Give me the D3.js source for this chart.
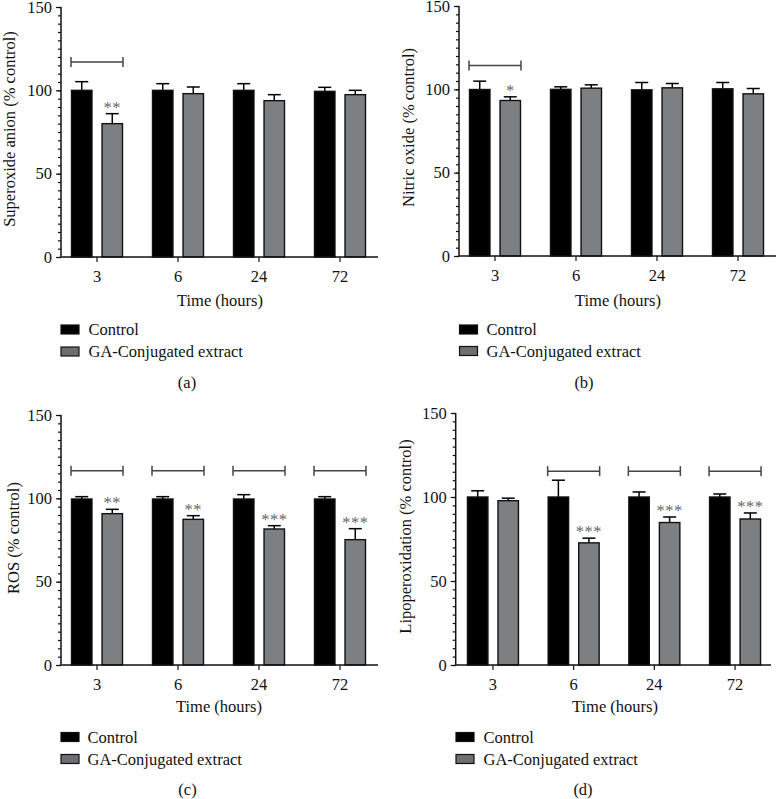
<!DOCTYPE html>
<html><head><meta charset="utf-8">
<script src="https://cdn.jsdelivr.net/npm/d3@7"></script>
<style>
html,body{margin:0;padding:0;background:#fff;}
svg{display:block;font-family:"Liberation Serif","Times New Roman",serif;}
</style></head>
<body>
<svg id="chart" width="776" height="799"></svg>
<script>
// ---------- data ----------
const categories = ["3", "6", "24", "72"];
const seriesNames = ["Control", "GA-Conjugated extract"];
const yTickValues = [0, 50, 100, 150];
const xTitle = "Time (hours)";
const panelLetters = ["(a)", "(b)", "(c)", "(d)"];
const yTitles = ["Superoxide anion (% control)", "Nitric oxide (% control)", "ROS (% control)", "Lipoperoxidation (% control)"];

const superoxideControl = [100, 100, 100, 99.4];
const superoxideControlErr = [5.2, 4, 4, 2.4];
const superoxideExtract = [80, 98, 93.8, 97.4];
const superoxideExtractErr = [6, 4, 3.6, 2.6];
const superoxideStars = ["**", "", "", ""];
const superoxideBrackets = [true, false, false, false];

const nitricControl = [99.9, 100, 99.7, 100.3];
const nitricControlErr = [5, 1.5, 4.4, 3.8];
const nitricExtract = [93.3, 100.7, 100.9, 97.3];
const nitricExtractErr = [2.2, 2, 2.6, 3.2];
const nitricStars = ["*", "", "", ""];
const nitricBrackets = [true, false, false, false];

const rosControl = [99.6, 99.6, 99.6, 99.6];
const rosControlErr = [1.4, 1.4, 2.6, 1.4];
const rosExtract = [90.8, 87.4, 81.6, 75.2];
const rosExtractErr = [2.6, 2.2, 2, 6.6];
const rosStars = ["**", "**", "***", "***"];
const rosBrackets = [true, true, true, true];

const lipoControl = [100, 100, 100, 100];
const lipoControlErr = [3.7, 10, 3, 1.8];
const lipoExtract = [97.8, 72.7, 84.8, 86.9];
const lipoExtractErr = [1.5, 2.8, 3.3, 3.6];
const lipoStars = ["", "***", "***", "***"];
const lipoBrackets = [false, true, true, true];

const bracketLevels = [117, 114.3, 116.6, 115.4];

// ---------- layout ----------
const layouts = [
  {ax:61, top:7, bottom:257, xs:56.5, xe:380.5, axEnd:378, ytX:14.5, ytY:129, xtX:220, xtY:305.5, lgX:61, lgTX:88.5, lg1:329.5, lg2:351.5, ltX:187, ltY:388},
  {ax:459, top:6, bottom:256, xs:454.5, xe:778.5, axEnd:776, ytX:413.5, ytY:127.5, xtX:618, xtY:305.5, lgX:459.5, lgTX:486.5, lg1:329.5, lg2:351, ltX:584, ltY:388},
  {ax:61, top:415, bottom:665, xs:56.5, xe:380.5, axEnd:378, ytX:18.5, ytY:538, xtX:219, xtY:712, lgX:61, lgTX:87.5, lg1:737, lg2:759, ltX:187.5, ltY:795},
  {ax:455.7, top:413, bottom:665, xs:452.6, xe:775.4, axEnd:771, ytX:410.5, ytY:536.5, xtX:615, xtY:712, lgX:456, lgTX:483.5, lg1:737, lg2:759, ltX:583, ltY:795}
];

const panels = [
  {c:superoxideControl, ce:superoxideControlErr, e:superoxideExtract, ee:superoxideExtractErr, s:superoxideStars, b:superoxideBrackets},
  {c:nitricControl, ce:nitricControlErr, e:nitricExtract, ee:nitricExtractErr, s:nitricStars, b:nitricBrackets},
  {c:rosControl, ce:rosControlErr, e:rosExtract, ee:rosExtractErr, s:rosStars, b:rosBrackets},
  {c:lipoControl, ce:lipoControlErr, e:lipoExtract, ee:lipoExtractErr, s:lipoStars, b:lipoBrackets}
];

const fills = ["#000000", "#7d8082"];
const FS = 16.5;
const svg = d3.select("#chart");

panels.forEach((p, i) => {
  const L = layouts[i];
  const g = svg.append("g");
  const y = d3.scaleLinear().domain([0, 150]).range([L.bottom, L.top]);
  const x0 = d3.scaleBand().domain(categories).range([L.xs, L.xe]).paddingInner(0).paddingOuter(0);
  const groupW = 51;
  const x1 = d3.scaleBand().domain(seriesNames).range([0, groupW]).paddingInner(0.33).paddingOuter(0);
  const gx = c => x0(c) + x0.bandwidth() / 2 - groupW / 2;

  const rows = categories.map((cat, k) => ({
    cat,
    vals: [
      {name: seriesNames[0], v: p.c[k], err: p.ce[k]},
      {name: seriesNames[1], v: p.e[k], err: p.ee[k]}
    ],
    star: p.s[k], bracket: p.b[k]
  }));

  // bars
  const grp = g.selectAll("g.grp").data(rows).join("g").attr("class", "grp")
    .attr("transform", d => `translate(${gx(d.cat)},0)`);
  // error bars (upward only)
  grp.selectAll("g.err").data(d => d.vals).join("g").attr("class", "err").each(function(d, j) {
    const cx = x1(d.name) + x1.bandwidth() / 2;
    const sel = d3.select(this);
    sel.append("line").attr("x1", cx).attr("x2", cx).attr("y1", y(d.v)).attr("y2", y(d.v + d.err))
      .attr("stroke", "#000").attr("stroke-width", 1.5);
    sel.append("line").attr("x1", cx - 6.5).attr("x2", cx + 6.5).attr("y1", y(d.v + d.err)).attr("y2", y(d.v + d.err))
      .attr("stroke", "#000").attr("stroke-width", 1.5);
  });
  grp.selectAll("rect").data(d => d.vals).join("rect")
    .attr("x", d => x1(d.name)).attr("width", x1.bandwidth())
    .attr("y", d => y(d.v)).attr("height", d => y(0) - y(d.v))
    .attr("fill", (d, j) => fills[j]).attr("stroke", "#111").attr("stroke-width", 1.4);

  // stars
  grp.filter(d => d.star).append("text")
    .attr("x", x1(seriesNames[1]) + x1.bandwidth() / 2)
    .attr("y", d => y(d.vals[1].v + d.vals[1].err) - 1)
    .attr("text-anchor", "middle").attr("font-size", FS).attr("fill", "#666")
    .attr("letter-spacing", 0.5)
    .text(d => d.star);

  // brackets
  const br = grp.filter(d => d.bracket).append("g").attr("stroke", "#444").attr("stroke-width", 1.5);
  const bl = x1(seriesNames[0]) - 0.5, brr = x1(seriesNames[1]) + x1.bandwidth() + 0.5, by = y(bracketLevels[i]);
  br.append("line").attr("x1", bl).attr("x2", brr).attr("y1", by).attr("y2", by);
  br.append("line").attr("x1", bl).attr("x2", bl).attr("y1", by - 5).attr("y2", by + 5);
  br.append("line").attr("x1", brr).attr("x2", brr).attr("y1", by - 5).attr("y2", by + 5);

  // y axis
  const ya = g.append("g").attr("transform", `translate(${L.ax},0)`);
  ya.call(d3.axisLeft(y).tickValues(d3.range(0, 151, 5)).tickSize(3).tickFormat("").tickSizeOuter(0));
  ya.call(g2 => g2.select(".domain").remove());
  ya.append("g").call(d3.axisLeft(y).tickValues(yTickValues).tickSize(5).tickPadding(4).tickSizeOuter(0))
    .call(g2 => g2.select(".domain").remove())
    .call(g2 => g2.selectAll("text").attr("font-size", FS).attr("font-family", "Liberation Serif, serif").attr("fill", "#111"));
  ya.selectAll("line").attr("stroke", "#111").attr("stroke-width", 1.2);
  ya.append("line").attr("x1", 0).attr("x2", 0).attr("y1", y(150)).attr("y2", y(0)).attr("stroke", "#111").attr("stroke-width", 1.5);

  // x axis
  const xa = g.append("g").attr("transform", `translate(0,${L.bottom})`);
  xa.call(d3.axisBottom(x0).tickSize(5).tickPadding(8).tickSizeOuter(0))
    .call(g2 => g2.select(".domain").remove())
    .call(g2 => g2.selectAll("text").attr("font-size", FS).attr("font-family", "Liberation Serif, serif").attr("fill", "#111"));
  xa.selectAll("line").attr("stroke", "#111").attr("stroke-width", 1.2);
  xa.append("line").attr("x1", L.ax).attr("x2", L.axEnd).attr("y1", 0).attr("y2", 0).attr("stroke", "#111").attr("stroke-width", 1.5);

  // titles
  g.append("text").attr("transform", `translate(${L.ytX},${L.ytY}) rotate(-90)`)
    .attr("text-anchor", "middle").attr("font-size", FS).attr("fill", "#111").text(yTitles[i]);
  g.append("text").attr("x", L.xtX).attr("y", L.xtY).attr("text-anchor", "middle")
    .attr("font-size", FS).attr("fill", "#111").text(xTitle);

  // legend
  [L.lg1, L.lg2].forEach((cy, j) => {
    g.append("rect").attr("x", L.lgX).attr("y", cy - 4.5).attr("width", 18).attr("height", 9)
      .attr("fill", j === 0 ? "#000" : "#6d6e71").attr("stroke", "#111").attr("stroke-width", 1.2);
    g.append("text").attr("x", L.lgTX).attr("y", cy + 5.5).attr("font-size", FS).attr("fill", "#111").text(seriesNames[j]);
  });

  g.append("text").attr("x", L.ltX).attr("y", L.ltY).attr("text-anchor", "middle")
    .attr("font-size", FS).attr("fill", "#111").text(panelLetters[i]);
});
</script>
</body></html>
